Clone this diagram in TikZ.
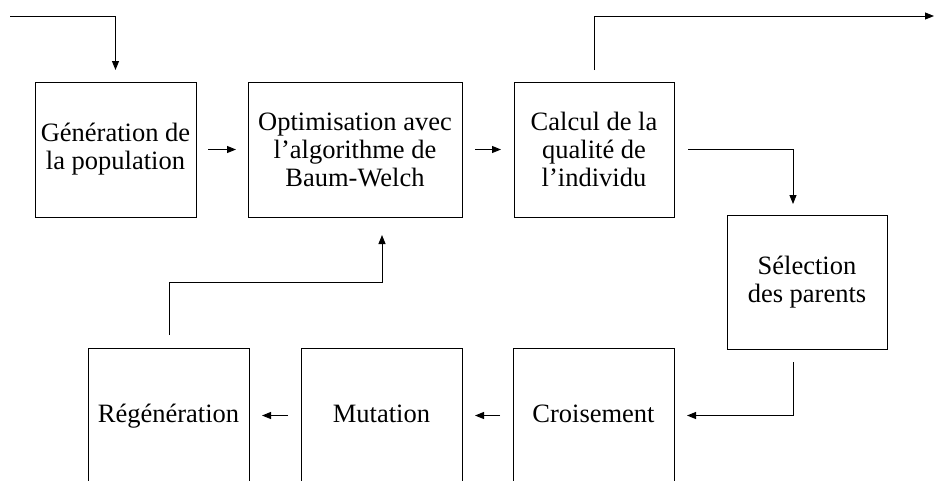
\documentclass[tikz,border=0pt]{standalone}
\usepackage{fontspec}
\setmainfont{Liberation Serif}
\usetikzlibrary{arrows.meta}
\tikzset{
  box/.style={draw, line width=0.9pt, inner sep=0pt, outer sep=0pt, align=center,
    minimum height=135pt, font=\fontsize{26.5}{28}\selectfont},
  onebox/.style={box, text height=19pt, text depth=6pt},
  arr/.style={line width=0.9pt, -{Triangle[length=9pt,width=7pt]}}
}
\begin{document}
\begin{tikzpicture}[x=1pt,y=-1pt]
\useasboundingbox (0,0) rectangle (934,480);
\clip (0,0) rectangle (934,480);
\node[box, minimum width=161pt] (gen) at (115.5,149.5) {Génération de\\la population};
\node[box, minimum width=214pt] (opt) at (355,149.5) {Optimisation avec\\l’algorithme de\\Baum-Welch};
\node[box, minimum width=160pt] (cal) at (594,149.5) {Calcul de la\\qualité de\\l’individu};
\node[box, minimum width=160pt, minimum height=134pt] (sel) at (807,282) {Sélection\\des parents};
\node[onebox, minimum width=161pt] (cro) at (593.5,415.5) {Croisement};
\node[onebox, minimum width=161pt] (mut) at (381.5,415.5) {Mutation};
\node[onebox, minimum width=161pt] (reg) at (168.5,415.5) {Régénération};
\coordinate (in0) at (10,16);
\coordinate (out0) at (934,16);
\coordinate (selin) at (793,215);
\coordinate (selout) at (793,349);
\coordinate (cal1) at (594,82);
\coordinate (reg1) at (169,348);
\coordinate (opt1) at (382,217);
\coordinate (calr) at (674,149.5);
\coordinate (cror) at (674,415.5);
\draw[arr, shorten >=12pt] (in0) -| (gen.north);
\draw[arr, shorten <=12pt, shorten >=12pt] (gen.east) -- (opt.west);
\draw[arr, shorten <=13pt, shorten >=13pt] (opt.east) -- (cal.west);
\draw[arr, shorten <=12pt] (cal1) |- (out0);
\draw[arr, shorten <=14pt, shorten >=11pt] (calr) -| (selin);
\draw[arr, shorten <=13pt, shorten >=13pt] (selout) |- (cror);
\draw[arr, shorten <=13pt, shorten >=13pt] (cro.west) -- (mut.east);
\draw[arr, shorten <=13pt, shorten >=13pt] (mut.west) -- (reg.east);
\draw[arr, shorten <=13pt, shorten >=18pt] (reg1) -- (169,282) -| (opt1);
\end{tikzpicture}
\end{document}
